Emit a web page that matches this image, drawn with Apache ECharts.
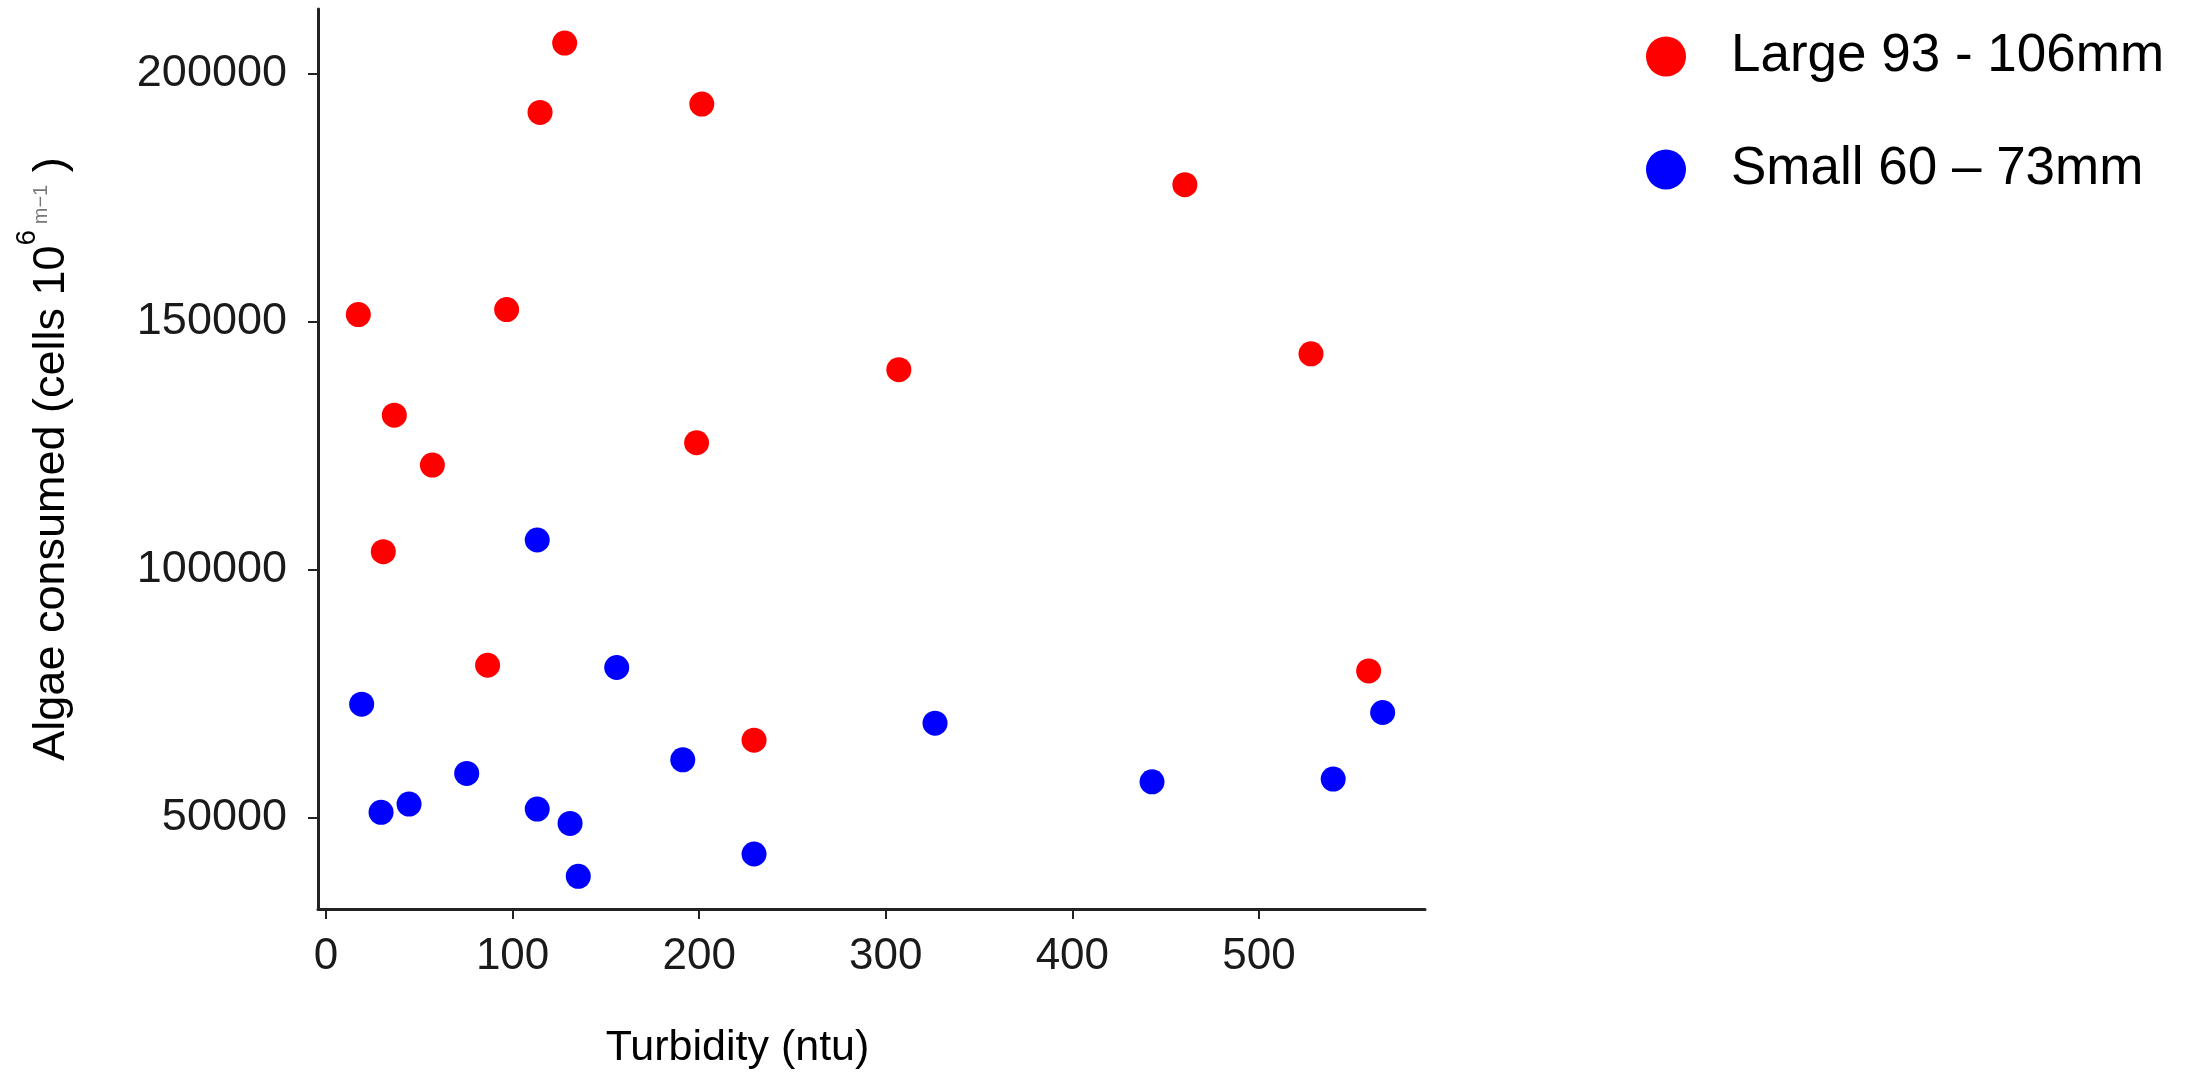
<!DOCTYPE html>
<html>
<head>
<meta charset="utf-8">
<script src="https://cdn.jsdelivr.net/npm/echarts@6/dist/echarts.min.js"></script>
<style>
html,body{margin:0;padding:0;background:#fff;}
#chart{width:2188px;height:1075px;}
</style>
</head>
<body>
<div id="chart"></div>
<script>
// ---- data (turbidity ntu, algae consumed) ----
const largeName = 'Large 93 - 106mm';
const smallName = 'Small 60 \u2013 73mm';
const largeTurbidity = [17.3, 36.6, 57.0, 30.7, 86.6, 96.8, 114.7, 127.9, 201.4, 198.6, 229.4, 307.0, 460.3, 527.9, 558.8];
const largeAlgae     = [151400, 131150, 121090, 103660, 80780, 152400, 192110, 206070, 193800, 125590, 65690, 140300, 177560, 143500, 79640];
const smallTurbidity = [19.1, 29.5, 44.5, 75.4, 113.2, 113.2, 130.8, 135.2, 155.8, 191.2, 229.4, 326.4, 442.7, 539.8, 566.3];
const smallAlgae     = [72940, 51150, 52820, 58990, 106000, 51810, 48930, 38270, 80320, 61730, 42760, 69110, 57300, 57850, 71270];
const xTicks = [0, 100, 200, 300, 400, 500];
const yTicks = [50000, 100000, 150000, 200000];

const pairs = (xs, ys) => xs.map((x, i) => [x, ys[i]]);

const chart = echarts.init(document.getElementById('chart'));
const axisColor = '#222';
const labelFont = 'Liberation Sans, Arial, sans-serif';

chart.setOption({
  backgroundColor: '#ffffff',
  animation: false,
  textStyle: { fontFamily: labelFont },
  grid: { left: 318, right: 763, top: 9, bottom: 165, containLabel: false },
  legend: {
    orient: 'vertical',
    left: 1646,
    top: 30,
    padding: 0,
    itemWidth: 40,
    itemHeight: 40,
    itemGap: 60,
    icon: 'circle',
    textStyle: { fontSize: 53, lineHeight: 53, color: '#000', fontFamily: labelFont, padding: [0, 0, 0, 40] },
    data: [largeName, smallName]
  },
  xAxis: {
    type: 'value',
    min: -4.3,
    max: 589,
    name: 'Turbidity (ntu)',
    nameLocation: 'middle',
    nameGap: 118,
    nameTextStyle: { fontSize: 43, color: '#000', fontFamily: labelFont, padding: [0, 268, 0, 0] },
    axisLine: { show: true, onZero: false, lineStyle: { color: axisColor, width: 3 } },
    axisTick: { show: true, length: 10, lineStyle: { color: axisColor, width: 2 }, customValues: xTicks },
    axisLabel: { fontSize: 44, color: '#1a1a1a', margin: 26, customValues: xTicks, fontFamily: labelFont,
                 formatter: v => String(v) },
    splitLine: { show: false }
  },
  yAxis: {
    type: 'value',
    min: 31690,
    max: 212940,
    name: '{a|Algae consumed (cells 10}{s|6}{m| m\u22121}{a| )}',
    nameLocation: 'middle',
    nameRotate: 90,
    nameGap: 228,
    nameTextStyle: {
      color: '#000',
      rich: {
        a: { fontSize: 45, color: '#000', fontFamily: labelFont },
        s: { fontSize: 28, color: '#000', fontFamily: labelFont, padding: [0, 0, 49, 0] },
        m: { fontSize: 20, color: '#777', fontFamily: labelFont, padding: [0, 0, 20, 0] }
      }
    },
    axisLine: { show: true, onZero: false, lineStyle: { color: axisColor, width: 3 } },
    axisTick: { show: true, length: 10, lineStyle: { color: axisColor, width: 2 }, customValues: yTicks },
    axisLabel: { fontSize: 45, color: '#1a1a1a', margin: 31, customValues: yTicks, fontFamily: labelFont,
                 padding: [10, 0, 0, 0], formatter: v => String(v) },
    splitLine: { show: false }
  },
  series: [
    {
      name: largeName,
      type: 'scatter',
      symbol: 'circle',
      symbolSize: 25,
      itemStyle: { color: '#FF0000', opacity: 1 },
      data: pairs(largeTurbidity, largeAlgae)
    },
    {
      name: smallName,
      type: 'scatter',
      symbol: 'circle',
      symbolSize: 25,
      itemStyle: { color: '#0000FF', opacity: 1 },
      data: pairs(smallTurbidity, smallAlgae)
    }
  ]
});
</script>
</body>
</html>
